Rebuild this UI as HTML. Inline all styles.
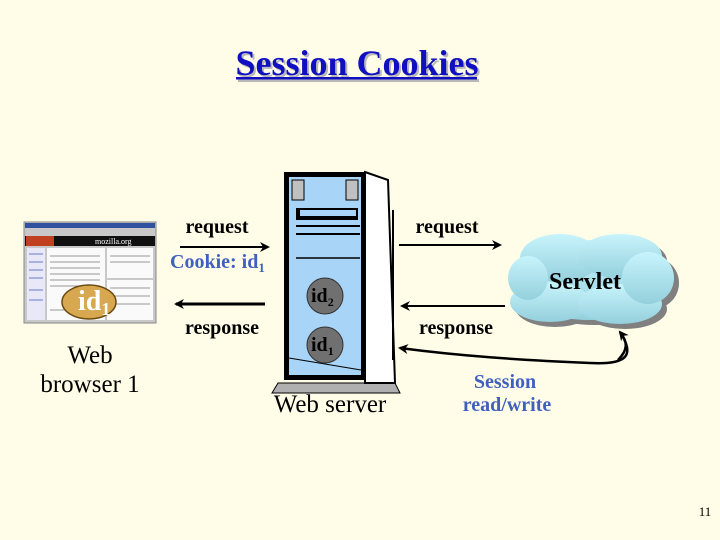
<!DOCTYPE html>
<html><head><meta charset="utf-8"><style>html,body{margin:0;padding:0;background:#fffde8;}svg{display:block}svg text{font-family:"Liberation Serif","Times New Roman",serif;}</style></head>
<body>
<svg width="720" height="540" viewBox="0 0 720 540" xmlns="http://www.w3.org/2000/svg">
<defs>
<marker id="ah" markerWidth="10" markerHeight="10" refX="8" refY="5" orient="auto" markerUnits="userSpaceOnUse"><path d="M0,0 L10,5 L0,10 L3,5 Z" fill="#000"/></marker>
<linearGradient id="cg" x1="0" y1="0" x2="0" y2="1"><stop offset="0" stop-color="#c8f4fc"/><stop offset="1" stop-color="#94d0dc"/></linearGradient>
</defs>
<rect width="720" height="540" fill="#fffde8"/>
<!-- title -->
<text x="359" y="77" text-anchor="middle" font-size="36" font-weight="bold" fill="#b8b8b8">Session Cookies</text>
<rect x="238" y="79" width="241" height="3" fill="#b8b8b8"/>
<text x="357" y="75" text-anchor="middle" font-size="36" font-weight="bold" fill="#1010c0">Session Cookies</text>
<rect x="236" y="77" width="241" height="2.5" fill="#1010c0"/>
<!-- browser -->
<rect x="24" y="222" width="132" height="101" fill="#c8c8c8" stroke="#888"/>
<rect x="25" y="223" width="130" height="5" fill="#3050a0"/>
<rect x="25" y="236" width="130" height="10" fill="#101010"/>
<rect x="26" y="236" width="28" height="10" fill="#c04020"/>
<text x="95" y="244" font-size="8" fill="#fff">mozilla.org</text>
<rect x="27" y="248" width="18" height="72" fill="#e8e8f8"/>
<rect x="47" y="248" width="58" height="72" fill="#fafafa"/>
<rect x="107" y="248" width="46" height="30" fill="#fafafa"/>
<rect x="107" y="280" width="46" height="40" fill="#fafafa"/>
<g stroke="#777" stroke-width="0.8">
<line x1="50" y1="256" x2="100" y2="256"/><line x1="50" y1="262" x2="100" y2="262"/><line x1="50" y1="268" x2="100" y2="268"/><line x1="50" y1="274" x2="100" y2="274"/><line x1="50" y1="280" x2="100" y2="280"/><line x1="50" y1="286" x2="100" y2="286"/><line x1="50" y1="310" x2="100" y2="310"/><line x1="110" y1="256" x2="150" y2="256"/><line x1="110" y1="262" x2="150" y2="262"/><line x1="110" y1="288" x2="150" y2="288"/><line x1="110" y1="296" x2="150" y2="296"/><line x1="110" y1="304" x2="150" y2="304"/>
<line x1="29" y1="254" x2="43" y2="254" stroke="#4060c0"/><line x1="29" y1="262" x2="43" y2="262" stroke="#4060c0"/><line x1="29" y1="270" x2="43" y2="270" stroke="#4060c0"/><line x1="29" y1="278" x2="43" y2="278" stroke="#4060c0"/><line x1="29" y1="290" x2="43" y2="290" stroke="#4060c0"/><line x1="29" y1="300" x2="43" y2="300" stroke="#4060c0"/>
</g>
<ellipse cx="89" cy="302" rx="27" ry="17" fill="#d8a850" stroke="#6a4a10" stroke-width="1.5"/>
<text x="78" y="310" font-size="28" font-weight="bold" fill="#fff">id<tspan font-size="18" dy="5">1</tspan></text>
<text x="90" y="363" text-anchor="middle" font-size="25">Web</text>
<text x="90" y="392" text-anchor="middle" font-size="25">browser 1</text>
<!-- left arrows -->
<text x="217" y="233" text-anchor="middle" font-size="20" font-weight="bold">request</text>
<line x1="180" y1="247" x2="268" y2="247" stroke="#000" stroke-width="2" marker-end="url(#ah)"/>
<text x="170" y="268" font-size="20" font-weight="bold" fill="#4060c0">Cookie: id<tspan font-size="13" dy="4">1</tspan></text>
<line x1="265" y1="304" x2="176" y2="304" stroke="#000" stroke-width="3" marker-end="url(#ah)"/>
<text x="222" y="334" text-anchor="middle" font-size="20" font-weight="bold">response</text>
<!-- server -->
<polygon points="278,383 395,383 400,393 272,393" fill="#b0b0b0" stroke="#000"/>
<polygon points="365,172 388,180 395,383 365,383" fill="#fff" stroke="#000" stroke-width="2"/>
<rect x="284" y="172" width="82" height="208" fill="#000"/>
<rect x="289" y="177" width="72" height="198" fill="#a8d4f8"/>
<rect x="292" y="180" width="12" height="20" fill="#c0c0c0" stroke="#000"/>
<rect x="346" y="180" width="12" height="20" fill="#c0c0c0" stroke="#000"/>
<rect x="296" y="208" width="62" height="12" fill="#000"/>
<rect x="300" y="210" width="56" height="6" fill="#a8d4f8"/>
<line x1="296" y1="226" x2="360" y2="226" stroke="#000" stroke-width="2"/>
<line x1="296" y1="234" x2="360" y2="234" stroke="#000" stroke-width="2"/>
<line x1="296" y1="258" x2="360" y2="258" stroke="#000" stroke-width="1.5"/>
<line x1="289" y1="358" x2="361" y2="370" stroke="#000" stroke-width="1"/>
<circle cx="325" cy="296" r="18" fill="#707070" stroke="#333"/>
<text x="311" y="302" font-size="20" font-weight="bold">id<tspan font-size="12" dy="4">2</tspan></text>
<circle cx="325" cy="345" r="18" fill="#707070" stroke="#333"/>
<text x="311" y="351" font-size="20" font-weight="bold">id<tspan font-size="12" dy="4">1</tspan></text>
<text x="330" y="412" text-anchor="middle" font-size="25">Web server</text>
<!-- right side -->
<line x1="393" y1="210" x2="393" y2="360" stroke="#000" stroke-width="2"/>
<text x="447" y="233" text-anchor="middle" font-size="20" font-weight="bold">request</text>
<line x1="399" y1="245" x2="500" y2="245" stroke="#000" stroke-width="2" marker-end="url(#ah)"/>
<line x1="505" y1="306" x2="402" y2="306" stroke="#000" stroke-width="2" marker-end="url(#ah)"/>
<text x="456" y="334" text-anchor="middle" font-size="20" font-weight="bold">response</text>
<!-- cloud -->
<g transform="translate(5,5)" fill="#808080">
<ellipse cx="590" cy="280" rx="80" ry="40"/><ellipse cx="560" cy="258" rx="40" ry="24"/><ellipse cx="620" cy="256" rx="42" ry="22"/><ellipse cx="550" cy="302" rx="40" ry="20"/><ellipse cx="620" cy="304" rx="42" ry="20"/><ellipse cx="648" cy="278" rx="26" ry="26"/><ellipse cx="528" cy="278" rx="20" ry="22"/>
</g>
<g fill="url(#cg)">
<ellipse cx="590" cy="280" rx="80" ry="40"/><ellipse cx="560" cy="258" rx="40" ry="24"/><ellipse cx="620" cy="256" rx="42" ry="22"/><ellipse cx="550" cy="302" rx="40" ry="20"/><ellipse cx="620" cy="304" rx="42" ry="20"/><ellipse cx="648" cy="278" rx="26" ry="26"/><ellipse cx="528" cy="278" rx="20" ry="22"/>
</g>
<text x="585" y="289" text-anchor="middle" font-size="24" font-weight="bold">Servlet</text>
<path d="M620,332 C635,355 628,365 590,363 C520,360 460,356 400,348" fill="none" stroke="#000" stroke-width="2.5" marker-end="url(#ah)"/>
<path d="M618,360 C628,350 628,342 620,332" fill="none" stroke="#000" stroke-width="2.5" marker-end="url(#ah)"/>
<text x="505" y="388" text-anchor="middle" font-size="20" font-weight="bold" fill="#4060c0">Session</text>
<text x="507" y="411" text-anchor="middle" font-size="20" font-weight="bold" fill="#4060c0">read/write</text>
<text x="705" y="516" text-anchor="middle" font-size="13">11</text>
</svg>
</body></html>
